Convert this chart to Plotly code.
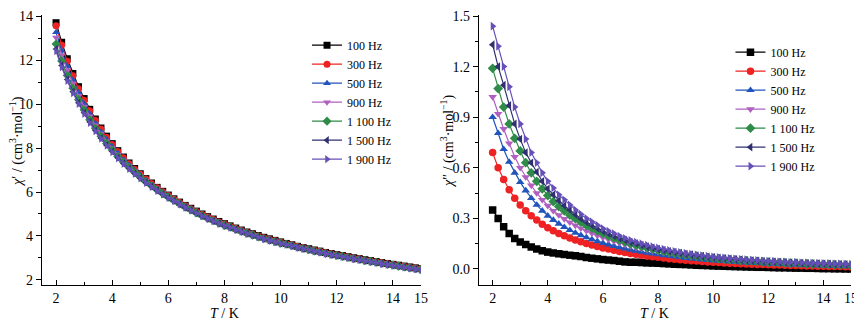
import plotly.graph_objects as go

# Temperature grid (K)
T = [2.0, 2.2, 2.4, 2.6, 2.8, 3.0, 3.2, 3.4, 3.6, 3.8, 4.0, 4.2, 4.4, 4.6, 4.8, 5.0, 5.2, 5.4, 5.6, 5.8, 6.0,
     6.2, 6.4, 6.6, 6.8, 7.0, 7.2, 7.4, 7.6, 7.8, 8.0, 8.2, 8.4, 8.6, 8.8, 9.0, 9.2, 9.4, 9.6, 9.8, 10.0,
     10.2, 10.4, 10.6, 10.8, 11.0, 11.2, 11.4, 11.6, 11.8, 12.0, 12.2, 12.4, 12.6, 12.8, 13.0, 13.2, 13.4,
     13.6, 13.8, 14.0, 14.2, 14.4, 14.6, 14.8, 15.0]

freq_labels = ["100 Hz", "300 Hz", "500 Hz", "900 Hz", "1 100 Hz", "1 500 Hz", "1 900 Hz"]

# chi' (in-phase)
chi1_100 = [13.70, 12.81, 12.06, 11.39, 10.79, 10.25, 9.76, 9.32, 8.91, 8.54, 8.20, 7.88, 7.59, 7.32, 7.07, 6.83, 6.61, 6.41, 6.21, 6.03, 5.86,
            5.69, 5.54, 5.39, 5.26, 5.13, 5.00, 4.88, 4.77, 4.66, 4.56, 4.46, 4.36, 4.27, 4.18, 4.10, 4.02, 3.94, 3.87, 3.80, 3.73,
            3.66, 3.60, 3.53, 3.47, 3.42, 3.36, 3.31, 3.25, 3.20, 3.15, 3.11, 3.06, 3.01, 2.97, 2.92, 2.88, 2.84, 2.79, 2.75, 2.71, 2.67, 2.63, 2.59, 2.55, 2.51]
chi1_300 = [13.56, 12.69, 11.95, 11.29, 10.70, 10.17, 9.69, 9.26, 8.86, 8.49, 8.16, 7.84, 7.56, 7.29, 7.04, 6.81, 6.59, 6.39, 6.19, 6.01, 5.84,
            5.67, 5.52, 5.37, 5.24, 5.11, 4.98, 4.86, 4.75, 4.64, 4.54, 4.44, 4.34, 4.25, 4.16, 4.08, 4.00, 3.92, 3.85, 3.78, 3.71,
            3.65, 3.59, 3.52, 3.46, 3.41, 3.35, 3.30, 3.24, 3.19, 3.14, 3.10, 3.05, 3.00, 2.96, 2.91, 2.87, 2.83, 2.78, 2.74, 2.70, 2.66, 2.62, 2.58, 2.54, 2.50]
chi1_500 = [13.26, 12.42, 11.72, 11.09, 10.52, 10.01, 9.55, 9.13, 8.74, 8.39, 8.07, 7.76, 7.48, 7.23, 6.99, 6.76, 6.54, 6.35, 6.16, 5.98, 5.82,
            5.65, 5.50, 5.35, 5.22, 5.09, 4.96, 4.84, 4.73, 4.62, 4.52, 4.43, 4.33, 4.24, 4.15, 4.07, 3.99, 3.91, 3.84, 3.77, 3.70,
            3.64, 3.58, 3.51, 3.45, 3.40, 3.34, 3.29, 3.23, 3.18, 3.13, 3.09, 3.04, 2.99, 2.95, 2.90, 2.86, 2.82, 2.77, 2.73, 2.69, 2.65, 2.61, 2.57, 2.53, 2.49]
chi1_900 = [13.03, 12.22, 11.54, 10.93, 10.38, 9.89, 9.44, 9.03, 8.66, 8.31, 8.00, 7.70, 7.43, 7.18, 6.94, 6.72, 6.51, 6.32, 6.13, 5.96, 5.79,
            5.63, 5.48, 5.33, 5.20, 5.07, 4.94, 4.82, 4.71, 4.60, 4.50, 4.41, 4.31, 4.22, 4.13, 4.05, 3.97, 3.89, 3.82, 3.75, 3.68,
            3.63, 3.57, 3.50, 3.44, 3.39, 3.33, 3.28, 3.22, 3.17, 3.12, 3.08, 3.03, 2.98, 2.94, 2.89, 2.85, 2.81, 2.76, 2.72, 2.68, 2.64, 2.60, 2.56, 2.52, 2.48]
chi1_1100 = [12.73, 11.96, 11.30, 10.72, 10.20, 9.73, 9.29, 8.90, 8.54, 8.21, 7.91, 7.62, 7.36, 7.12, 6.89, 6.67, 6.46, 6.28, 6.09, 5.92, 5.76,
             5.61, 5.46, 5.31, 5.18, 5.05, 4.92, 4.80, 4.69, 4.58, 4.48, 4.40, 4.30, 4.21, 4.12, 4.04, 3.96, 3.88, 3.81, 3.74, 3.67,
             3.62, 3.56, 3.49, 3.43, 3.38, 3.32, 3.27, 3.21, 3.16, 3.11, 3.07, 3.02, 2.97, 2.93, 2.88, 2.84, 2.80, 2.75, 2.71, 2.67, 2.63, 2.59, 2.55, 2.51, 2.47]
chi1_1500 = [12.50, 11.75, 11.12, 10.56, 10.06, 9.60, 9.18, 8.80, 8.45, 8.13, 7.84, 7.56, 7.30, 7.07, 6.84, 6.63, 6.43, 6.25, 6.07, 5.90, 5.74,
             5.60, 5.45, 5.30, 5.17, 5.04, 4.91, 4.79, 4.68, 4.57, 4.47, 4.39, 4.29, 4.20, 4.11, 4.03, 3.95, 3.87, 3.80, 3.73, 3.66,
             3.61, 3.55, 3.48, 3.42, 3.37, 3.31, 3.26, 3.20, 3.15, 3.10, 3.06, 3.01, 2.96, 2.92, 2.87, 2.83, 2.79, 2.74, 2.70, 2.66, 2.62, 2.58, 2.54, 2.50, 2.46]
chi1_1900 = [12.40, 11.67, 11.05, 10.49, 10.00, 9.55, 9.14, 8.76, 8.42, 8.10, 7.81, 7.53, 7.28, 7.05, 6.82, 6.61, 6.41, 6.23, 6.05, 5.89, 5.73,
             5.59, 5.44, 5.29, 5.16, 5.03, 4.90, 4.78, 4.67, 4.56, 4.46, 4.38, 4.28, 4.19, 4.10, 4.02, 3.94, 3.86, 3.79, 3.72, 3.65,
             3.60, 3.54, 3.47, 3.41, 3.36, 3.30, 3.25, 3.19, 3.14, 3.09, 3.05, 3.00, 2.95, 2.91, 2.86, 2.82, 2.78, 2.73, 2.69, 2.65, 2.61, 2.57, 2.53, 2.49, 2.45]

# chi'' (out-of-phase)
chi2_100 = [0.35, 0.30, 0.25, 0.21, 0.18, 0.16, 0.145, 0.13, 0.118, 0.108, 0.100, 0.095, 0.090, 0.086, 0.082, 0.078, 0.074, 0.068, 0.064, 0.060, 0.056,
            0.053, 0.050, 0.046, 0.042, 0.040, 0.040, 0.038, 0.036, 0.035, 0.034, 0.032, 0.030, 0.028, 0.027, 0.026, 0.024, 0.022, 0.021, 0.020, 0.018,
            0.017, 0.016, 0.015, 0.014, 0.013, 0.012, 0.011, 0.010, 0.010, 0.009, 0.008, 0.007, 0.007, 0.006, 0.005, 0.005, 0.004, 0.004, 0.003, 0.002, 0.002, 0.001, 0.001, 0.000, 0.000]
chi2_300 = [0.69, 0.60, 0.53, 0.47, 0.42, 0.38, 0.345, 0.315, 0.29, 0.265, 0.245, 0.227, 0.211, 0.197, 0.184, 0.172, 0.161, 0.151, 0.142, 0.133, 0.125,
            0.118, 0.111, 0.104, 0.098, 0.092, 0.087, 0.082, 0.077, 0.073, 0.069, 0.065, 0.061, 0.058, 0.055, 0.052, 0.049, 0.047, 0.044, 0.042, 0.040,
            0.038, 0.036, 0.034, 0.033, 0.031, 0.030, 0.028, 0.027, 0.026, 0.025, 0.024, 0.023, 0.022, 0.021, 0.020, 0.019, 0.018, 0.017, 0.016, 0.016, 0.015, 0.014, 0.014, 0.013, 0.012]
chi2_500 = [0.90, 0.805, 0.71, 0.635, 0.57, 0.515, 0.465, 0.42, 0.38, 0.345, 0.315, 0.29, 0.268, 0.248, 0.23, 0.214, 0.20, 0.187, 0.175, 0.164, 0.154,
            0.145, 0.136, 0.128, 0.121, 0.114, 0.107, 0.101, 0.096, 0.091, 0.086, 0.081, 0.077, 0.073, 0.069, 0.065, 0.062, 0.059, 0.056, 0.053, 0.050,
            0.048, 0.046, 0.043, 0.041, 0.039, 0.037, 0.036, 0.034, 0.033, 0.031, 0.030, 0.029, 0.027, 0.026, 0.025, 0.024, 0.023, 0.022, 0.021, 0.020, 0.019, 0.019, 0.018, 0.017, 0.016]
chi2_900 = [1.02, 0.92, 0.83, 0.745, 0.665, 0.60, 0.545, 0.495, 0.45, 0.41, 0.375, 0.345, 0.32, 0.297, 0.277, 0.258, 0.241, 0.226, 0.212, 0.198, 0.186,
            0.175, 0.164, 0.154, 0.145, 0.136, 0.128, 0.121, 0.114, 0.108, 0.102, 0.096, 0.091, 0.086, 0.081, 0.077, 0.073, 0.069, 0.066, 0.063, 0.060,
            0.057, 0.054, 0.052, 0.049, 0.047, 0.045, 0.043, 0.041, 0.039, 0.038, 0.036, 0.035, 0.033, 0.032, 0.031, 0.029, 0.028, 0.027, 0.026, 0.025, 0.024, 0.023, 0.022, 0.021, 0.020]
chi2_1100 = [1.19, 1.07, 0.96, 0.86, 0.775, 0.70, 0.63, 0.57, 0.52, 0.475, 0.435, 0.40, 0.37, 0.345, 0.32, 0.298, 0.278, 0.259, 0.242, 0.226, 0.211,
             0.197, 0.184, 0.172, 0.161, 0.151, 0.142, 0.134, 0.126, 0.119, 0.112, 0.105, 0.099, 0.094, 0.089, 0.084, 0.080, 0.076, 0.072, 0.068, 0.065,
             0.062, 0.059, 0.056, 0.054, 0.051, 0.049, 0.047, 0.045, 0.043, 0.041, 0.040, 0.038, 0.037, 0.035, 0.034, 0.032, 0.031, 0.030, 0.029, 0.028, 0.027, 0.026, 0.025, 0.024, 0.023]
chi2_1500 = [1.33, 1.20, 1.09, 0.97, 0.86, 0.77, 0.69, 0.63, 0.575, 0.52, 0.475, 0.44, 0.405, 0.375, 0.35, 0.323, 0.30, 0.278, 0.26, 0.242, 0.224,
             0.21, 0.196, 0.183, 0.171, 0.16, 0.151, 0.142, 0.133, 0.126, 0.118, 0.112, 0.105, 0.100, 0.094, 0.089, 0.085, 0.080, 0.076, 0.072, 0.069,
             0.066, 0.063, 0.060, 0.057, 0.055, 0.052, 0.050, 0.048, 0.046, 0.045, 0.043, 0.041, 0.040, 0.038, 0.037, 0.035, 0.034, 0.033, 0.032, 0.031, 0.030, 0.029, 0.028, 0.027, 0.026]
chi2_1900 = [1.44, 1.32, 1.20, 1.08, 0.96, 0.86, 0.77, 0.69, 0.63, 0.57, 0.52, 0.48, 0.44, 0.41, 0.38, 0.35, 0.325, 0.30, 0.28, 0.26, 0.24,
             0.225, 0.21, 0.195, 0.182, 0.17, 0.16, 0.15, 0.141, 0.133, 0.125, 0.118, 0.111, 0.105, 0.099, 0.094, 0.089, 0.084, 0.080, 0.076, 0.072,
             0.069, 0.066, 0.063, 0.060, 0.057, 0.055, 0.053, 0.051, 0.049, 0.047, 0.045, 0.043, 0.042, 0.040, 0.039, 0.037, 0.036, 0.035, 0.034, 0.033, 0.032, 0.031, 0.030, 0.029, 0.028]

chi1_series = [chi1_100, chi1_300, chi1_500, chi1_900, chi1_1100, chi1_1500, chi1_1900]
chi2_series = [chi2_100, chi2_300, chi2_500, chi2_900, chi2_1100, chi2_1500, chi2_1900]

x_ticks = [2, 4, 6, 8, 10, 12, 14, 15]
x_minor = [3, 5, 7, 9, 11, 13]
y1_ticks = [2, 4, 6, 8, 10, 12, 14]
y1_minor = [3, 5, 7, 9, 11, 13]
y2_ticks = [0.0, 0.3, 0.6, 0.9, 1.2, 1.5]
y2_minor = [0.15, 0.45, 0.75, 1.05, 1.35]

colors = ["#000000", "#ee2222", "#2255bb", "#b060c0", "#2e8b48", "#303070", "#6650b8"]
symbols = ["square", "circle", "triangle-up", "triangle-down", "diamond", "triangle-left", "triangle-right"]

FONT = "Liberation Serif, Times New Roman, serif"

fig = go.Figure()
for lab, ys, c, s in zip(freq_labels, chi1_series, colors, symbols):
    fig.add_trace(go.Scatter(x=T, y=ys, name=lab, mode="lines+markers",
                             line=dict(color=c, width=1.2),
                             marker=dict(symbol=s, size=7, color=c),
                             xaxis="x", yaxis="y", legend="legend"))
for lab, ys, c, s in zip(freq_labels, chi2_series, colors, symbols):
    fig.add_trace(go.Scatter(x=T, y=ys, name=lab, mode="lines+markers",
                             line=dict(color=c, width=1.2),
                             marker=dict(symbol=s, size=7.5, color=c),
                             xaxis="x2", yaxis="y2", legend="legend2"))

axis_common = dict(showline=True, linecolor="black", linewidth=1.2, showgrid=False, zeroline=False,
                   automargin=False,
                   tickfont=dict(family=FONT, size=14, color="black"), tickcolor="black", tickwidth=1.2)

xcommon = dict(axis_common, range=[1.5, 15], tickvals=x_ticks, ticks="inside", ticklen=5,
               ticklabelstandoff=0,
               minor=dict(tickvals=x_minor, ticks="inside", ticklen=3, tickcolor="black", tickwidth=1.2))

title_font = dict(family=FONT, size=14, color="black")

# The page body has an 8px margin, so the figure is drawn 8px in from the top-left corner.
fig.update_layout(
    width=854, height=312,
    paper_bgcolor="white", plot_bgcolor="white",
    margin=dict(l=34, r=11, t=7, b=35, autoexpand=False),
    font=dict(family=FONT, size=14, color="black"),
    xaxis=dict(xcommon, domain=[0, 0.4685], anchor="y"),
    yaxis=dict(axis_common, range=[1.77, 14.05], tickvals=y1_ticks, ticks="outside", ticklen=5,
               minor=dict(tickvals=y1_minor, ticks="outside", ticklen=3, tickcolor="black", tickwidth=1.2),
               anchor="x"),
    xaxis2=dict(xcommon, domain=[0.540, 1], anchor="y2"),
    yaxis2=dict(axis_common, range=[-0.095, 1.506], tickvals=y2_ticks, tickformat=".1f", ticks="outside", ticklen=5,
                minor=dict(tickvals=y2_minor, ticks="outside", ticklen=3, tickcolor="black", tickwidth=1.2),
                anchor="x2"),
    legend=dict(x=0.3276, y=0.942, xanchor="left", yanchor="top", bgcolor="rgba(0,0,0,0)",
                font=dict(family=FONT, size=12, color="black"), tracegroupgap=0),
    legend2=dict(x=0.851, y=0.916, xanchor="left", yanchor="top", bgcolor="rgba(0,0,0,0)",
                 font=dict(family=FONT, size=12, color="black"), tracegroupgap=0),
    showlegend=True,
    annotations=[
        dict(text="<i>χ</i>′ / (cm<sup>3</sup>·mol<sup>−1</sup>)", textangle=-90, xref="paper", yref="paper",
             x=-0.0309, y=0.53, xanchor="center", yanchor="middle", showarrow=False, font=title_font),
        dict(text="<i>χ</i>″ / (cm<sup>3</sup>·mol<sup>−1</sup>)", textangle=-90, xref="paper", yref="paper",
             x=0.5019, y=0.53, xanchor="center", yanchor="middle", showarrow=False, font=title_font),
        dict(text="<i>T</i> / K", xref="paper", yref="paper", x=0.225, y=-0.104,
             xanchor="center", yanchor="middle", showarrow=False, font=title_font),
        dict(text="<i>T</i> / K", xref="paper", yref="paper", x=0.7577, y=-0.104,
             xanchor="center", yanchor="middle", showarrow=False, font=title_font),
    ],
)

fig.write_html("out.html")
